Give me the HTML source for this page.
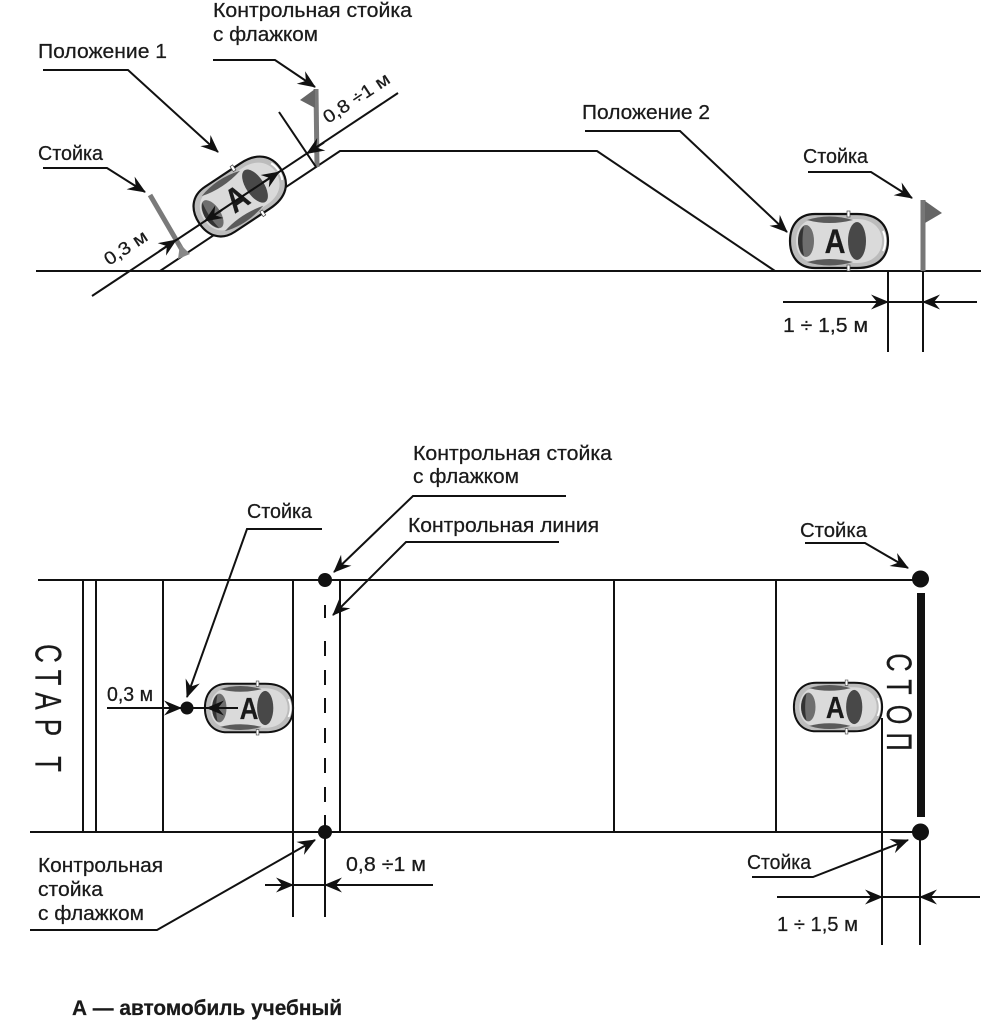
<!DOCTYPE html>
<html><head><meta charset="utf-8"><style>
html,body{margin:0;padding:0;background:#fff;}
svg{display:block;}
text{font-family:"Liberation Sans","DejaVu Sans",sans-serif;fill:#1a1a1a;stroke:#1a1a1a;stroke-width:0.25;}
</style></head><body>
<svg width="1000" height="1020" viewBox="0 0 1000 1020" xmlns="http://www.w3.org/2000/svg">
<defs>
<marker id="ah" viewBox="-19 -9 21 18" refX="0" refY="0" markerWidth="21" markerHeight="18" markerUnits="userSpaceOnUse" orient="auto">
<path d="M1,0 L-17,-7.5 L-11,0 L-17,7.5Z" fill="#111"/>
</marker>
</defs>
<rect width="1000" height="1020" fill="#fff"/>

<!-- ===== TOP SECTION ===== -->
<g stroke="#111" stroke-width="2" fill="none">
  <path d="M36,271 H981"/>
  <path d="M160,271 L340,151 L597,151 L775,271"/>
  <path d="M888,271 V352 M923,271 V352"/>
  <path d="M888,302 H923"/>
</g>
<!-- gray posts -->
<line x1="150" y1="195" x2="185" y2="255" stroke="#7a7a7a" stroke-width="5"/>
<polygon points="180,244 190,254 178,259" fill="#888"/>
<line x1="316" y1="89" x2="317" y2="167" stroke="#7a7a7a" stroke-width="5"/>
<polygon points="300,100 315,89 315,108" fill="#666"/>
<line x1="923" y1="200" x2="923" y2="271" stroke="#777" stroke-width="5"/>
<polygon points="925,201 942,213 925,223" fill="#666"/>

<!-- car 1 (slope) -->
<g transform="translate(240,196) rotate(-33.5)">
 <path d="M-24,-27 L18,-27 C38,-27 49,-17 49,0 C49,17 38,27 18,27 L-24,27 C-41,27 -49,15 -49,0 C-49,-15 -41,-27 -24,-27Z" fill="#bcbcbc" stroke="#111" stroke-width="2.2"/>
 <path d="M-22,-22 L18,-22 C33,-22 43,-13 43,0 C43,13 33,22 18,22 L-22,22 C-36,22 -43,12 -43,0 C-43,-12 -36,-22 -22,-22Z" fill="#dadada"/>
 <path d="M-32,-21 Q-10,-28 14,-21 Q-10,-15 -32,-21Z" fill="#5a5a5a"/>
 <path d="M-32,21 Q-10,28 14,21 Q-10,15 -32,21Z" fill="#5a5a5a"/>
 <ellipse cx="-33" cy="0" rx="8" ry="16" fill="#6e6e6e"/>
 <path d="M-35,-15 C-43,-8 -43,8 -35,15 C-37,6 -37,-6 -35,-15Z" fill="#333"/>
 <ellipse cx="18" cy="0" rx="9" ry="19" fill="#484848"/>
 <path d="M44,-10 C47,-4 47,4 44,10" stroke="#fff" stroke-width="2" fill="none"/>
 <rect x="8" y="-30" width="3" height="6" fill="#fff" stroke="#444" stroke-width="0.7"/>
 <rect x="8" y="24" width="3" height="6" fill="#fff" stroke="#444" stroke-width="0.7"/>
 <text transform="translate(-4,12) scale(0.85,1)" font-size="34" font-weight="bold" text-anchor="middle">А</text>
</g>

<!-- upper slope dimension line over car -->
<g stroke="#111" stroke-width="2" fill="none">
  <path d="M92,296 L398,93"/>
  <path d="M279,112 L316,167"/>
  <path d="M159,251.3 L176,240" marker-end="url(#ah)"/>
  <path d="M222,210 L205,221" marker-end="url(#ah)"/>
  <path d="M262,183 L279,172" marker-end="url(#ah)"/>
  <path d="M324,142.5 L307,153.5" marker-end="url(#ah)"/>
</g>

<!-- car 2 -->
<g transform="translate(839,241)">
 <path d="M-24,-27 L18,-27 C38,-27 49,-17 49,0 C49,17 38,27 18,27 L-24,27 C-41,27 -49,15 -49,0 C-49,-15 -41,-27 -24,-27Z" fill="#bcbcbc" stroke="#111" stroke-width="2.2"/>
 <path d="M-22,-22 L18,-22 C33,-22 43,-13 43,0 C43,13 33,22 18,22 L-22,22 C-36,22 -43,12 -43,0 C-43,-12 -36,-22 -22,-22Z" fill="#dadada"/>
 <path d="M-32,-21 Q-10,-28 14,-21 Q-10,-15 -32,-21Z" fill="#5a5a5a"/>
 <path d="M-32,21 Q-10,28 14,21 Q-10,15 -32,21Z" fill="#5a5a5a"/>
 <ellipse cx="-33" cy="0" rx="8" ry="16" fill="#6e6e6e"/>
 <path d="M-35,-15 C-43,-8 -43,8 -35,15 C-37,6 -37,-6 -35,-15Z" fill="#333"/>
 <ellipse cx="18" cy="0" rx="9" ry="19" fill="#484848"/>
 <path d="M44,-10 C47,-4 47,4 44,10" stroke="#fff" stroke-width="2" fill="none"/>
 <rect x="8" y="-30" width="3" height="6" fill="#fff" stroke="#444" stroke-width="0.7"/>
 <rect x="8" y="24" width="3" height="6" fill="#fff" stroke="#444" stroke-width="0.7"/>
 <text transform="translate(-4,12) scale(0.85,1)" font-size="34" font-weight="bold" text-anchor="middle">А</text>
</g>

<!-- top leaders -->
<g stroke="#111" stroke-width="2" fill="none">
  <polyline points="43,70 128,70 218,152" marker-end="url(#ah)"/>
  <polyline points="213,60 275,60 315,87" marker-end="url(#ah)"/>
  <polyline points="43,168 107,168 145,192" marker-end="url(#ah)"/>
  <polyline points="585,131 680,131 787,232" marker-end="url(#ah)"/>
  <polyline points="808,172 871,172 912,198" marker-end="url(#ah)"/>
  <path d="M783,302 L888,302" marker-end="url(#ah)"/>
  <path d="M977,302 L923,302" marker-end="url(#ah)"/>
</g>

<!-- top texts -->
<g font-size="20">
  <text x="213" y="17" textLength="199" lengthAdjust="spacingAndGlyphs">Контрольная стойка</text>
  <text x="213" y="41" textLength="105" lengthAdjust="spacingAndGlyphs">с флажком</text>
  <text x="38" y="58" textLength="129" lengthAdjust="spacingAndGlyphs">Положение 1</text>
  <text x="38" y="160" textLength="65" lengthAdjust="spacingAndGlyphs">Стойка</text>
  <text x="582" y="119" textLength="128" lengthAdjust="spacingAndGlyphs">Положение 2</text>
  <text x="803" y="163" textLength="65" lengthAdjust="spacingAndGlyphs">Стойка</text>
  <text x="783" y="332" textLength="85" lengthAdjust="spacingAndGlyphs">1 ÷ 1,5 м</text>
  <text transform="translate(109,266) rotate(-33.5)" font-size="18" textLength="48" lengthAdjust="spacingAndGlyphs">0,3 м</text>
  <text transform="translate(328,124) rotate(-33.5)" font-size="18" textLength="76" lengthAdjust="spacingAndGlyphs">0,8 ÷1 м</text>
</g>

<!-- ===== BOTTOM SECTION ===== -->
<g stroke="#111" stroke-width="2" fill="none">
  <path d="M38,580 H913 M30,832 H913"/>
  <path d="M83,580 V832 M96,580 V832 M163,580 V832 M340,580 V832 M614,580 V832 M776,580 V832"/>
  <path d="M293,580 V917 M325,832 V917"/>
  <path d="M325,605 V618 M325,641 V656 M325,670 V685 M325,698 V713 M325,728 V743 M325,758 V773 M325,787 V802 M325,815 V826"/>
  <path d="M882,718 V945 M920,832 V945"/>
  <path d="M293,885 H325 M882,897 H920"/>
</g>
<line x1="921" y1="593" x2="921" y2="817" stroke="#111" stroke-width="8"/>
<circle cx="325" cy="580" r="7" fill="#111"/>
<circle cx="325" cy="832" r="7" fill="#111"/>
<circle cx="920.5" cy="579" r="8.5" fill="#111"/>
<circle cx="920.5" cy="832" r="8.5" fill="#111"/>

<!-- car 4 (start) -->
<g transform="translate(249,708) scale(0.9)">
 <path d="M-24,-27 L18,-27 C38,-27 49,-17 49,0 C49,17 38,27 18,27 L-24,27 C-41,27 -49,15 -49,0 C-49,-15 -41,-27 -24,-27Z" fill="#bcbcbc" stroke="#111" stroke-width="2.2"/>
 <path d="M-22,-22 L18,-22 C33,-22 43,-13 43,0 C43,13 33,22 18,22 L-22,22 C-36,22 -43,12 -43,0 C-43,-12 -36,-22 -22,-22Z" fill="#dadada"/>
 <path d="M-32,-21 Q-10,-28 14,-21 Q-10,-15 -32,-21Z" fill="#5a5a5a"/>
 <path d="M-32,21 Q-10,28 14,21 Q-10,15 -32,21Z" fill="#5a5a5a"/>
 <ellipse cx="-33" cy="0" rx="8" ry="16" fill="#6e6e6e"/>
 <path d="M-35,-15 C-43,-8 -43,8 -35,15 C-37,6 -37,-6 -35,-15Z" fill="#333"/>
 <ellipse cx="18" cy="0" rx="9" ry="19" fill="#484848"/>
 <path d="M44,-10 C47,-4 47,4 44,10" stroke="#fff" stroke-width="2" fill="none"/>
 <rect x="8" y="-30" width="3" height="6" fill="#fff" stroke="#444" stroke-width="0.7"/>
 <rect x="8" y="24" width="3" height="6" fill="#fff" stroke="#444" stroke-width="0.7"/>
 <text transform="translate(0,12) scale(0.85,1)" font-size="34" font-weight="bold" text-anchor="middle">А</text>
</g>

<!-- car 3 (stop) -->
<g transform="translate(838,707) scale(0.9)">
 <path d="M-24,-27 L18,-27 C38,-27 49,-17 49,0 C49,17 38,27 18,27 L-24,27 C-41,27 -49,15 -49,0 C-49,-15 -41,-27 -24,-27Z" fill="#bcbcbc" stroke="#111" stroke-width="2.2"/>
 <path d="M-22,-22 L18,-22 C33,-22 43,-13 43,0 C43,13 33,22 18,22 L-22,22 C-36,22 -43,12 -43,0 C-43,-12 -36,-22 -22,-22Z" fill="#dadada"/>
 <path d="M-32,-21 Q-10,-28 14,-21 Q-10,-15 -32,-21Z" fill="#5a5a5a"/>
 <path d="M-32,21 Q-10,28 14,21 Q-10,15 -32,21Z" fill="#5a5a5a"/>
 <ellipse cx="-33" cy="0" rx="8" ry="16" fill="#6e6e6e"/>
 <path d="M-35,-15 C-43,-8 -43,8 -35,15 C-37,6 -37,-6 -35,-15Z" fill="#333"/>
 <ellipse cx="18" cy="0" rx="9" ry="19" fill="#484848"/>
 <path d="M44,-10 C47,-4 47,4 44,10" stroke="#fff" stroke-width="2" fill="none"/>
 <rect x="8" y="-30" width="3" height="6" fill="#fff" stroke="#444" stroke-width="0.7"/>
 <rect x="8" y="24" width="3" height="6" fill="#fff" stroke="#444" stroke-width="0.7"/>
 <text transform="translate(-3,12) scale(0.85,1)" font-size="34" font-weight="bold" text-anchor="middle">А</text>
</g>

<!-- start car dimension overlay -->
<g stroke="#111" stroke-width="2" fill="none">
  <path d="M107,708 L181,708" marker-end="url(#ah)"/>
  <path d="M187,708 L238,708"/>
  <path d="M228,708 L207,708" marker-end="url(#ah)"/>
</g>
<circle cx="187" cy="708" r="6.5" fill="#111"/>

<!-- bottom leaders -->
<g stroke="#111" stroke-width="2" fill="none">
  <polyline points="322,529 247,529 187,697" marker-end="url(#ah)"/>
  <polyline points="566,496 413,496 334,572" marker-end="url(#ah)"/>
  <polyline points="559,542 406,542 333,615" marker-end="url(#ah)"/>
  <polyline points="805,543 865,543 908,568" marker-end="url(#ah)"/>
  <polyline points="752,877 813,877 908,840" marker-end="url(#ah)"/>
  <polyline points="30,930 157,930 315,840" marker-end="url(#ah)"/>
  <path d="M265,885 L293,885" marker-end="url(#ah)"/>
  <path d="M433,885 L325,885" marker-end="url(#ah)"/>
  <path d="M777,897 L882,897" marker-end="url(#ah)"/>
  <path d="M980,897 L920,897" marker-end="url(#ah)"/>
</g>

<!-- bottom texts -->
<g font-size="20">
  <text x="413" y="460" textLength="199" lengthAdjust="spacingAndGlyphs">Контрольная стойка</text>
  <text x="413" y="483" textLength="106" lengthAdjust="spacingAndGlyphs">с флажком</text>
  <text x="408" y="532" textLength="191" lengthAdjust="spacingAndGlyphs">Контрольная линия</text>
  <text x="247" y="518" textLength="65" lengthAdjust="spacingAndGlyphs">Стойка</text>
  <text x="800" y="537" textLength="67" lengthAdjust="spacingAndGlyphs">Стойка</text>
  <text x="107" y="701" textLength="46" lengthAdjust="spacingAndGlyphs">0,3 м</text>
  <text x="38" y="872" textLength="125" lengthAdjust="spacingAndGlyphs">Контрольная</text>
  <text x="38" y="896" textLength="65" lengthAdjust="spacingAndGlyphs">стойка</text>
  <text x="38" y="920" textLength="106" lengthAdjust="spacingAndGlyphs">с флажком</text>
  <text x="346" y="871" textLength="80" lengthAdjust="spacingAndGlyphs">0,8 ÷1 м</text>
  <text x="747" y="869" textLength="64" lengthAdjust="spacingAndGlyphs">Стойка</text>
  <text x="777" y="931" textLength="81" lengthAdjust="spacingAndGlyphs">1 ÷ 1,5 м</text>
</g>

<!-- СТАРТ -->
<g font-size="37">
  <text transform="translate(48.5,653.5) rotate(90) scale(0.7,1)" y="13" text-anchor="middle">С</text>
  <text transform="translate(48.5,677.5) rotate(90) scale(0.7,1)" y="13" text-anchor="middle">Т</text>
  <text transform="translate(48.5,701) rotate(90) scale(0.7,1)" y="13" text-anchor="middle">А</text>
  <text transform="translate(48.5,727.5) rotate(90) scale(0.7,1)" y="13" text-anchor="middle">Р</text>
  <text transform="translate(48.5,764) rotate(90) scale(0.7,1)" y="13" text-anchor="middle">Т</text>
</g>
<!-- СТОП -->
<g font-size="35">
  <text transform="translate(899.5,662.5) rotate(90) scale(0.72,1)" y="12.5" text-anchor="middle">С</text>
  <text transform="translate(899.5,687) rotate(90) scale(0.72,1)" y="12.5" text-anchor="middle">Т</text>
  <text transform="translate(899.5,714.5) rotate(90) scale(0.72,1)" y="12.5" text-anchor="middle">О</text>
  <text transform="translate(899.5,741.5) rotate(90) scale(0.72,1)" y="12.5" text-anchor="middle">П</text>
</g>

<!-- caption -->
<text x="72" y="1015" font-size="21" font-weight="bold" textLength="270" lengthAdjust="spacingAndGlyphs">А — автомобиль учебный</text>
</svg>
</body></html>
